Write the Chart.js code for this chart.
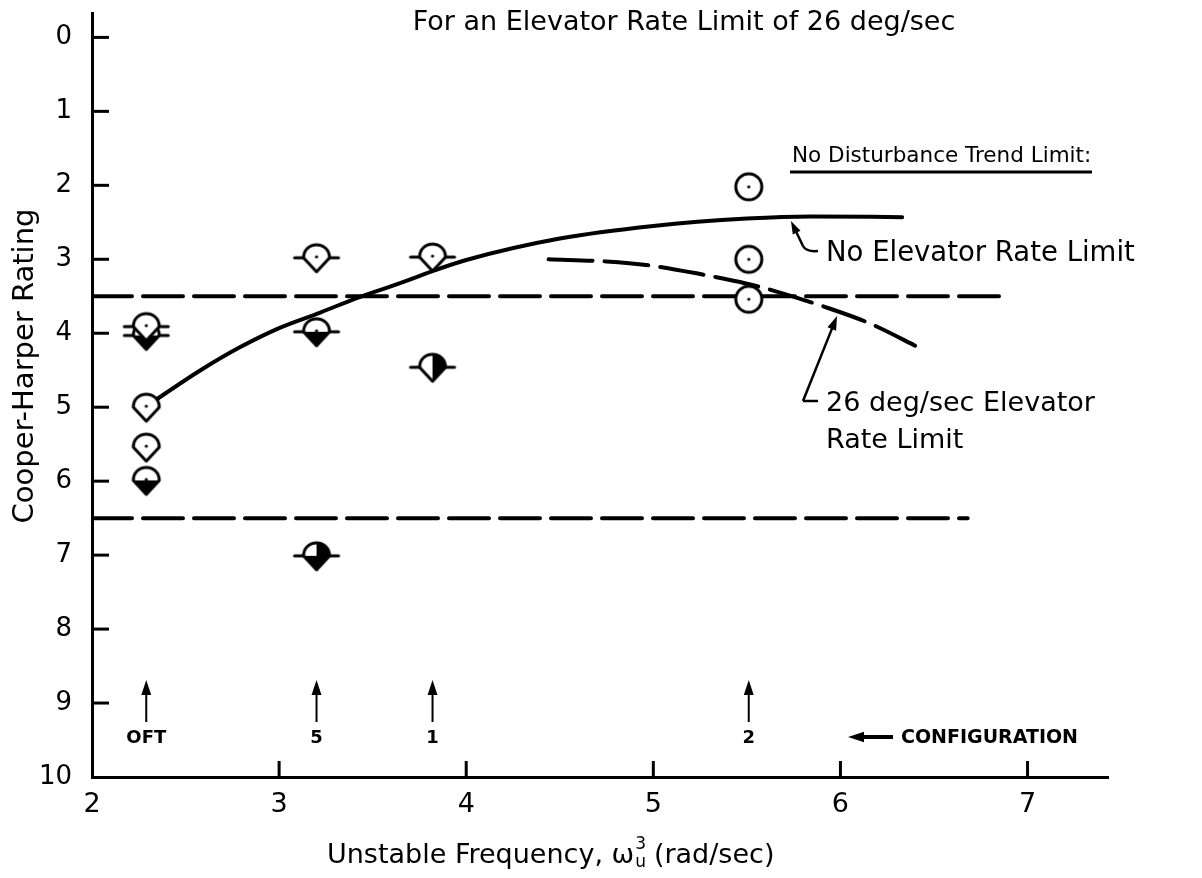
<!DOCTYPE html>
<html>
<head>
<meta charset="utf-8">
<script src="https://cdn.jsdelivr.net/npm/chart.js@4.4.0/dist/chart.umd.min.js"></script>
<style>
  html, body { margin: 0; padding: 0; background: #fff; }
  #wrap { width: 1202px; height: 878px; }
</style>
</head>
<body>
<div id="wrap"><canvas id="chart" width="1202" height="878"></canvas></div>
<script>
/* ---------- DATA ---------- */
const xTicks = [2, 3, 4, 5, 6, 7];
const yTicks = [0, 1, 2, 3, 4, 5, 6, 7, 8, 9, 10];

// faired curve, no elevator rate limit
const noLimitX = [2.3, 2.58, 2.79, 3.0, 3.22, 3.43, 3.65, 3.82, 4.0, 4.5, 5.0, 5.5, 5.84, 6.33];
const noLimitY = [4.97, 4.5, 4.19, 3.93, 3.72, 3.51, 3.32, 3.16, 3.01, 2.72, 2.55, 2.45, 2.42, 2.43];

// faired curve, 26 deg/sec elevator rate limit
const rateLimX = [4.44, 4.75, 5.0, 5.25, 5.5, 5.65, 5.9, 6.15, 6.44];
const rateLimY = [3.0, 3.03, 3.09, 3.2, 3.33, 3.43, 3.63, 3.86, 4.22];

// no disturbance trend limits
const upperLimX = [2, 6.87];
const upperLimY = [3.5, 3.5];
const lowerLimX = [2, 6.68];
const lowerLimY = [6.5, 6.5];

// pilot ratings, one pair of arrays per symbol
const openX = [2.29, 2.29];
const openY = [5.0, 5.54];
const openFlagX = [2.29, 3.2, 3.82];
const openFlagY = [3.91, 2.98, 2.97];
const lowerFlagX = [2.29, 3.2];
const lowerFlagY = [4.03, 3.98];
const lowerX = [2.29];
const lowerY = [5.99];
const halfFlagX = [3.82];
const halfFlagY = [4.46];
const mostFlagX = [3.2];
const mostFlagY = [7.01];
const circleX = [5.51, 5.51, 5.51];
const circleY = [2.02, 3.0, 3.54];

// configurations along the bottom
const configX = [2.29, 3.2, 3.82, 5.51];
const configNames = ["OFT", "5", "1", "2"];

const pts = (xs, ys) => xs.map((x, i) => ({ x, y: ys[i] }));

/* ---------- SYMBOLS ---------- */
function rating(fill, flags) {
  const c = document.createElement("canvas");
  c.width = 50; c.height = 36;
  const g = c.getContext("2d");
  g.translate(25, 18);
  const shape = () => {
    g.beginPath();
    g.moveTo(-13, 0);
    g.bezierCurveTo(-13, -8, -7, -13, 0, -13);
    g.bezierCurveTo(7, -13, 13, -8, 13, 0);
    g.lineTo(0, 14);
    g.closePath();
  };
  shape();
  g.fillStyle = "#fff";
  g.fill();
  g.save();
  shape();
  g.clip();
  g.fillStyle = "#000";
  if (fill === "bottom" || fill === "most") g.fillRect(-15, 0, 30, 16);
  if (fill === "right" || fill === "most") g.fillRect(0, -15, 16, 31);
  g.restore();
  shape();
  g.lineWidth = 3;
  g.lineJoin = "round";
  g.strokeStyle = "#000";
  g.stroke();
  if (fill === "none" || fill === "bottom") {
    g.beginPath();
    g.arc(0, -1, 1.6, 0, Math.PI * 2);
    g.fillStyle = "#000";
    g.fill();
  }
  if (flags) {
    g.lineCap = "round";
    g.beginPath();
    g.moveTo(-22, 0); g.lineTo(-13, 0);
    g.moveTo(13, 0); g.lineTo(22, 0);
    g.stroke();
  }
  return c;
}

function ring() {
  const c = document.createElement("canvas");
  c.width = 34; c.height = 34;
  const g = c.getContext("2d");
  g.beginPath();
  g.arc(17, 17, 13, 0, Math.PI * 2);
  g.fillStyle = "#fff";
  g.fill();
  g.lineWidth = 3;
  g.stroke();
  g.beginPath();
  g.arc(17, 17, 1.6, 0, Math.PI * 2);
  g.fillStyle = "#000";
  g.fill();
  return c;
}

/* ---------- DRAW HELPERS ---------- */
function arrow(ctx, x1, y1, x2, y2, head) {
  const a = Math.atan2(y2 - y1, x2 - x1);
  const cos = Math.cos(a), sin = Math.sin(a);
  ctx.beginPath();
  ctx.moveTo(x1, y1);
  ctx.lineTo(x2 - cos * head * 0.7, y2 - sin * head * 0.7);
  ctx.stroke();
  ctx.beginPath();
  ctx.moveTo(x2, y2);
  ctx.lineTo(x2 - head * cos + head * 0.33 * sin, y2 - head * sin - head * 0.33 * cos);
  ctx.lineTo(x2 - head * cos - head * 0.33 * sin, y2 - head * sin + head * 0.33 * cos);
  ctx.closePath();
  ctx.fill();
}

const FONT = "'DejaVu Sans', sans-serif";

const decor = {
  id: "decor",
  afterDraw(chart) {
    const ctx = chart.ctx;
    const xs = chart.scales.x, ys = chart.scales.y;
    const area = chart.chartArea;
    ctx.save();
    ctx.strokeStyle = "#000";
    ctx.fillStyle = "#000";
    ctx.lineCap = "butt";

    // tick marks pointing into the plot
    ctx.lineWidth = 3;
    yTicks.forEach(v => {
      if (v === 10) return;
      const y = ys.getPixelForValue(v);
      ctx.beginPath();
      ctx.moveTo(area.left, y);
      ctx.lineTo(area.left + 17, y);
      ctx.stroke();
    });
    xTicks.forEach(v => {
      if (v === 2) return;
      const x = xs.getPixelForValue(v);
      ctx.beginPath();
      ctx.moveTo(x, area.bottom);
      ctx.lineTo(x, area.bottom - 16);
      ctx.stroke();
    });

    // y axis title
    ctx.save();
    ctx.translate(25, 366);
    ctx.rotate(-Math.PI / 2);
    ctx.textAlign = "center";
    ctx.textBaseline = "middle";
    ctx.font = "29px " + FONT;
    ctx.fillText("Cooper-Harper Rating", 0, 0);
    ctx.restore();

    // heading
    ctx.textBaseline = "middle";
    ctx.textAlign = "center";
    ctx.font = "27px " + FONT;
    ctx.fillText("For an Elevator Rate Limit of 26 deg/sec", 684, 23);

    // trend limit heading, underlined
    ctx.textAlign = "left";
    ctx.font = "21.5px " + FONT;
    ctx.fillText("No Disturbance Trend Limit:", 792, 156);
    ctx.lineWidth = 3;
    ctx.beginPath();
    ctx.moveTo(790, 172);
    ctx.lineTo(1092, 172);
    ctx.stroke();

    // curve callouts
    ctx.font = "27.5px " + FONT;
    ctx.lineWidth = 2.5;
    ctx.lineJoin = "round";
    ctx.beginPath();
    ctx.moveTo(818, 251);
    ctx.quadraticCurveTo(806, 252, 803, 246);
    ctx.stroke();
    arrow(ctx, 803, 246, 791, 221, 13);
    ctx.fillText("No Elevator Rate Limit", 826, 254);

    ctx.font = "27px " + FONT;
    ctx.beginPath();
    ctx.moveTo(818, 401);
    ctx.lineTo(803, 401);
    ctx.stroke();
    arrow(ctx, 803, 401, 837, 316, 14);
    ctx.fillText("26 deg/sec Elevator", 826, 404);
    ctx.fillText("Rate Limit", 826, 441);

    // configuration arrows and names
    ctx.lineWidth = 2;
    ctx.textAlign = "center";
    ctx.font = "bold 18px " + FONT;
    configX.forEach((v, i) => {
      const x = xs.getPixelForValue(v);
      arrow(ctx, x, 722, x, 680, 15);
      ctx.fillText(configNames[i], x, 738);
    });
    ctx.lineWidth = 4;
    arrow(ctx, 893, 737, 848, 737, 16);
    ctx.textAlign = "left";
    ctx.font = "bold 19px " + FONT;
    ctx.fillText("CONFIGURATION", 901, 738);

    // x axis title with sub/superscript
    ctx.font = "27px " + FONT;
    let x = 327;
    const base = 856;
    const t1 = "Unstable Frequency, \u03c9";
    ctx.fillText(t1, x, base);
    x += ctx.measureText(t1).width;
    ctx.font = "17px " + FONT;
    ctx.fillText("u", x + 1, base + 7);
    ctx.fillText("3", x + 1, base - 11);
    x += ctx.measureText("u").width + 9;
    ctx.font = "27px " + FONT;
    ctx.fillText("(rad/sec)", x, base);

    ctx.restore();
  }
};

/* ---------- CHART ---------- */
const lineSet = (xs, ys, dash) => ({
  data: pts(xs, ys),
  showLine: true,
  borderColor: "#000",
  borderWidth: 4,
  borderDash: dash,
  borderCapStyle: "round",
  pointRadius: 0,
  fill: false,
  cubicInterpolationMode: "monotone"
});

const symbolSet = (xs, ys, style) => ({
  data: pts(xs, ys),
  showLine: false,
  pointStyle: style,
  pointRadius: 12,
  pointHoverRadius: 12
});

new Chart(document.getElementById("chart"), {
  type: "scatter",
  data: {
    datasets: [
      symbolSet(circleX, circleY, ring()),
      symbolSet(openFlagX, openFlagY, rating("none", true)),
      symbolSet(lowerFlagX, lowerFlagY, rating("bottom", true)),
      symbolSet(openX, openY, rating("none", false)),
      symbolSet(lowerX, lowerY, rating("bottom", false)),
      symbolSet(halfFlagX, halfFlagY, rating("right", true)),
      symbolSet(mostFlagX, mostFlagY, rating("most", true)),
      lineSet(noLimitX, noLimitY, []),
      lineSet(rateLimX, rateLimY, [44, 12]),
      lineSet(upperLimX, upperLimY, [40, 11]),
      lineSet(lowerLimX, lowerLimY, [40, 11])
    ]
  },
  options: {
    responsive: false,
    animation: false,
    devicePixelRatio: 1,
    layout: { padding: { left: 0, top: 12, right: 94, bottom: 0 } },
    plugins: {
      legend: { display: false },
      tooltip: { enabled: false }
    },
    scales: {
      x: {
        type: "linear",
        min: 2,
        max: 7.43,
        afterBuildTicks: s => { s.ticks = xTicks.map(v => ({ value: v })); },
        afterFit: s => { s.height = 101; s.paddingLeft = 0; s.paddingRight = 0; },
        grid: { display: true, drawOnChartArea: false, drawTicks: false },
        border: { display: true, color: "#000", width: 3 },
        ticks: {
          color: "#000",
          padding: 12,
          font: { family: FONT, size: 27 }
        }
      },
      y: {
        type: "linear",
        reverse: true,
        min: -0.33,
        max: 10,
        afterBuildTicks: s => { s.ticks = yTicks.map(v => ({ value: v })); },
        afterFit: s => { s.width = 92; s.paddingTop = 0; s.paddingBottom = 0; },
        grid: { display: true, drawOnChartArea: false, drawTicks: false },
        border: { display: true, color: "#000", width: 3 },
        ticks: {
          color: "#000",
          padding: 20,
          font: { family: FONT, size: 26 }
        }
      }
    }
  },
  plugins: [decor]
});
</script>
</body>
</html>
